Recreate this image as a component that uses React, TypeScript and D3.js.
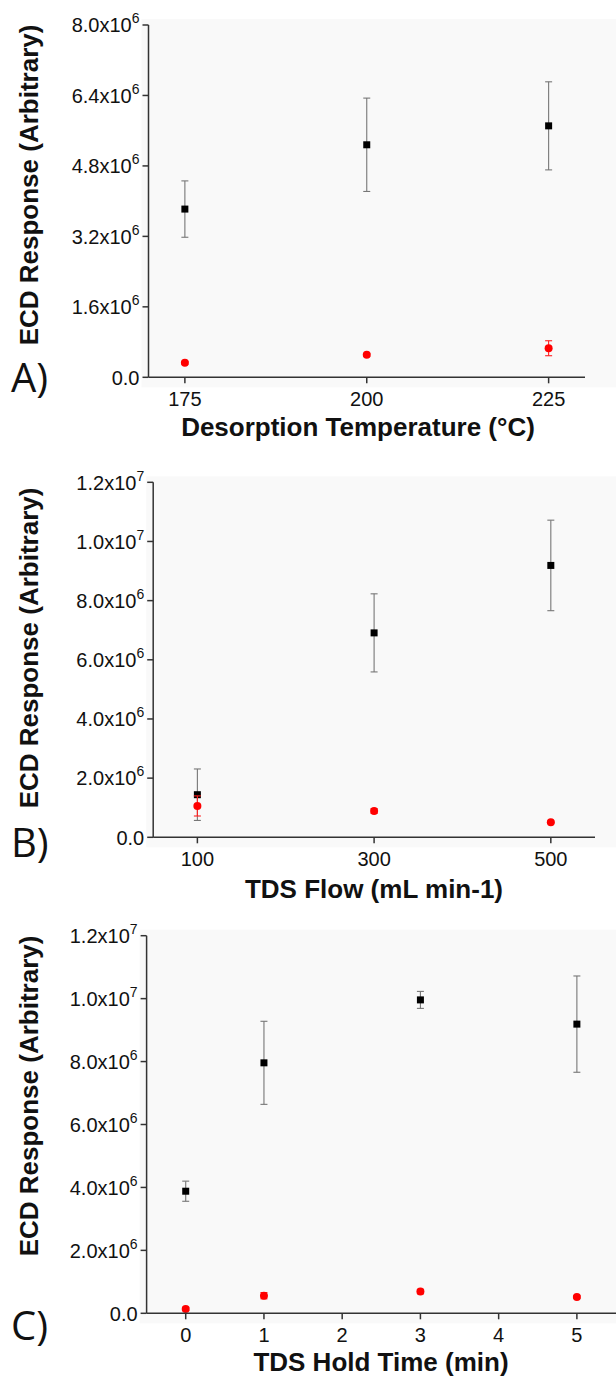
import React from 'react';
import * as d3 from 'd3';

// Panel A: desorption temperature
const tempX = [175, 200, 225];
const tempBlack = [3.82e6, 5.28e6, 5.71e6];
const tempBlackErr = [0.64e6, 1.06e6, 1.0e6];
const tempRed = [0.33e6, 0.51e6, 0.66e6];
const tempRedErr = [0.03e6, 0.03e6, 0.17e6];
const tempXTicks = [175, 200, 225];
const tempYTicks = [0, 1.6e6, 3.2e6, 4.8e6, 6.4e6, 8.0e6];

// Panel B: TDS flow
const flowX = [100, 300, 500];
const flowBlack = [1.44e6, 6.91e6, 9.19e6];
const flowBlackErr = [0.87e6, 1.32e6, 1.53e6];
const flowRed = [1.06e6, 0.89e6, 0.51e6];
const flowRedErr = [0.34e6, 0.08e6, 0.03e6];
const flowXTicks = [100, 300, 500];
const flowYTicks = [0, 2e6, 4e6, 6e6, 8e6, 1.0e7, 1.2e7];

// Panel C: TDS hold time
const holdX = [0, 1, 3, 5];
const holdBlack = [3.88e6, 7.96e6, 9.96e6, 9.19e6];
const holdBlackErr = [0.32e6, 1.32e6, 0.27e6, 1.53e6];
const holdRed = [0.14e6, 0.56e6, 0.69e6, 0.52e6];
const holdRedErr = [0.05e6, 0.1e6, 0.07e6, 0.04e6];
const holdXTicks = [0, 1, 2, 3, 4, 5];
const holdYTicks = [0, 2e6, 4e6, 6e6, 8e6, 1.0e7, 1.2e7];

const FONT = 'Liberation Sans, Arial, Helvetica, sans-serif';

function fmt(v: number): [string, string] {
  if (v === 0) return ['0.0', ''];
  const e = Math.floor(Math.log10(v) + 1e-9);
  const m = v / Math.pow(10, e);
  return [m.toFixed(1) + 'x10', String(e)];
}

type PanelProps = {
  xs: number[];
  black: number[];
  blackErr: number[];
  red: number[];
  redErr: number[];
  xDomain: [number, number];
  xTicks: number[];
  yMax: number;
  yTicks: number[];
  left: number;
  right: number;
  top: number;
  bottom: number;
  xTitle: string;
  xTitleX: number;
  xTitleY: number;
  yTitleY: number;
  letter: string;
  letterY: number;
};

function Panel(p: PanelProps) {
  const x = d3.scaleLinear().domain(p.xDomain).range([p.left, p.right]);
  const y = d3.scaleLinear().domain([0, p.yMax]).range([p.bottom, p.top]);
  const cap = 3.5;
  const axisColor = '#333';
  const errBar = (xv: number, v: number, e: number, color: string, key: string) => {
    const cx = x(xv);
    const y1 = y(v + e);
    const y2 = y(v - e);
    return (
      <g key={key} stroke={color} strokeWidth={1.1}>
        <line x1={cx} x2={cx} y1={y1} y2={y2} />
        <line x1={cx - cap} x2={cx + cap} y1={y1} y2={y1} />
        <line x1={cx - cap} x2={cx + cap} y1={y2} y2={y2} />
      </g>
    );
  };
  return (
    <g>
      <rect x={p.left - 7} y={p.top - 6} width={616 - (p.left - 7)} height={p.bottom - p.top + 16} fill="#f9f9f9" />
      {p.xs.map((xv, i) => errBar(xv, p.black[i], p.blackErr[i], '#777', 'be' + i))}
      {p.xs.map((xv, i) => (
        <rect key={'bs' + i} x={x(xv) - 3.5} y={y(p.black[i]) - 3.5} width={7} height={7} fill="#000" />
      ))}
      {p.xs.map((xv, i) => errBar(xv, p.red[i], p.redErr[i], '#ff2020', 're' + i))}
      {p.xs.map((xv, i) => (
        <circle key={'rc' + i} cx={x(xv)} cy={y(p.red[i])} r={4} fill="#ff0000" />
      ))}
      {/* axes */}
      <line x1={p.left} x2={p.left} y1={p.top} y2={p.bottom} stroke={axisColor} strokeWidth={1.5} />
      <line x1={p.left} x2={p.right} y1={p.bottom} y2={p.bottom} stroke={axisColor} strokeWidth={1.5} />
      {p.yTicks.map((t, i) => {
        const [main, sup] = fmt(t);
        return (
          <g key={'yt' + i}>
            <line x1={p.left - 6} x2={p.left} y1={y(t)} y2={y(t)} stroke={axisColor} strokeWidth={1.5} />
            <text x={p.left - 9} y={y(t)} dy="0.36em" textAnchor="end" fontFamily={FONT} fontSize={20} fill="#111">
              <tspan>{main}</tspan>
              {sup && (
                <tspan dy={-9} fontSize={14}>
                  {sup}
                </tspan>
              )}
            </text>
          </g>
        );
      })}
      {p.xTicks.map((t, i) => (
        <g key={'xt' + i}>
          <line x1={x(t)} x2={x(t)} y1={p.bottom} y2={p.bottom + 6} stroke={axisColor} strokeWidth={1.5} />
          <text x={x(t)} y={p.bottom + 28.5} textAnchor="middle" fontFamily={FONT} fontSize={20} fill="#111">
            {t}
          </text>
        </g>
      ))}
      <text x={p.xTitleX} y={p.xTitleY} textAnchor="middle" fontFamily={FONT} fontSize={26} fontWeight="bold" fill="#111">
        {p.xTitle}
      </text>
      <text
        transform={`translate(38,${p.yTitleY}) rotate(-90)`}
        textAnchor="middle"
        fontFamily={FONT}
        fontSize={26}
        fontWeight="bold"
        fill="#111"
      >
        ECD Response (Arbitrary)
      </text>
      <text x={11} y={p.letterY} fontFamily="Open Sans, Liberation Sans, sans-serif" fontWeight={400} fontSize={40} fill="#111">
        {p.letter}
      </text>
    </g>
  );
}

export default function App() {
  return (
    <svg
      width={616}
      height={1381}
      style={{ position: 'absolute', left: 0, top: 0, display: 'block', background: '#fff' }}
    >
      <rect x={0} y={0} width={616} height={1381} fill="#fff" />
      <Panel
        xs={tempX}
        black={tempBlack}
        blackErr={tempBlackErr}
        red={tempRed}
        redErr={tempRedErr}
        xDomain={[170, 230]}
        xTicks={tempXTicks}
        yMax={8e6}
        yTicks={tempYTicks}
        left={148.5}
        right={585}
        top={25}
        bottom={377.3}
        xTitle="Desorption Temperature (°C)"
        xTitleX={358}
        xTitleY={436}
        yTitleY={185}
        letter="A)"
        letterY={392}
      />
      <Panel
        xs={flowX}
        black={flowBlack}
        blackErr={flowBlackErr}
        red={flowRed}
        redErr={flowRedErr}
        xDomain={[50, 550]}
        xTicks={flowXTicks}
        yMax={1.2e7}
        yTicks={flowYTicks}
        left={153.2}
        right={595}
        top={482.3}
        bottom={837.3}
        xTitle="TDS Flow (mL min-1)"
        xTitleX={374}
        xTitleY={898}
        yTitleY={648}
        letter="B)"
        letterY={857}
      />
      <Panel
        xs={holdX}
        black={holdBlack}
        blackErr={holdBlackErr}
        red={holdRed}
        redErr={holdRedErr}
        xDomain={[-0.5, 5.5]}
        xTicks={holdXTicks}
        yMax={1.2e7}
        yTicks={holdYTicks}
        left={146.6}
        right={616}
        top={935.7}
        bottom={1313.3}
        xTitle="TDS Hold Time (min)"
        xTitleX={381}
        xTitleY={1371}
        yTitleY={1096}
        letter="C)"
        letterY={1340}
      />
    </svg>
  );
}
